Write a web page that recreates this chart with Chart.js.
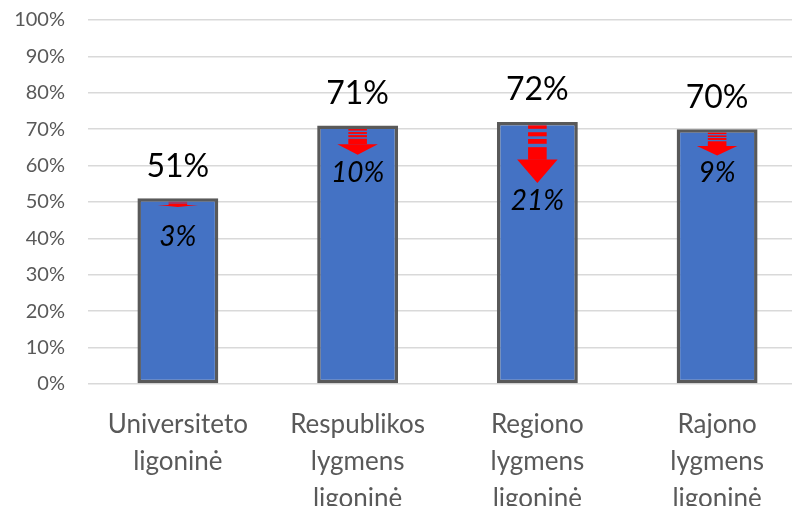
<!DOCTYPE html>
<html>
<head>
<meta charset="utf-8">
<script src="https://cdn.jsdelivr.net/npm/chart.js@4.4.0/dist/chart.umd.min.js"></script>
<style>
  body { margin: 0; overflow: hidden; background: #fff; }
  #wrap { width: 807px; height: 506px; }
</style>
</head>
<body>
<div id="wrap"><canvas id="myChart" width="807" height="506"></canvas></div>
<script>
const categories = [
    ['Universiteto', 'ligoninė'],
    ['Respublikos', 'lygmens', 'ligoninė'],
    ['Regiono', 'lygmens', 'ligoninė'],
    ['Rajono', 'lygmens', 'ligoninė']
];
const values = [51, 71, 72, 70];
const decreases = [3, 10, 21, 9];
const yTicks = [0, 10, 20, 30, 40, 50, 60, 70, 80, 90, 100];

// red striped arrows + value labels drawn on top of the bars
const arrowsAndLabels = {
    id: 'arrowsAndLabels',
    afterDatasetsDraw(chart) {
        const ctx = chart.ctx;
        const y = chart.scales.y;
        const meta = chart.getDatasetMeta(0);
        meta.data.forEach((bar, i) => {
            const x = bar.x;
            const top = y.getPixelForValue(values[i]);
            const tip = y.getPixelForValue(values[i] - decreases[i] * 0.8);
            const start = top + 3.5;
            const len = tip - start;
            const headH = len * 0.41;
            const shaftEnd = tip - headH;
            const shaftLen = shaftEnd - start;
            const shaftW = bar.width * 0.23;
            const headW = bar.width * 0.5;

            ctx.save();
            ctx.fillStyle = '#ff0000';
            [[0, 0.1], [0.2, 0.32], [0.4, 0.54], [0.64, 1.01]].forEach(([a, b]) => {
                ctx.fillRect(x - shaftW / 2, start + a * shaftLen, shaftW, (b - a) * shaftLen);
            });
            ctx.beginPath();
            ctx.moveTo(x - headW / 2, shaftEnd);
            ctx.lineTo(x + headW / 2, shaftEnd);
            ctx.lineTo(x, tip);
            ctx.closePath();
            ctx.fill();

            ctx.fillStyle = '#000';
            ctx.textAlign = 'center';
            ctx.textBaseline = 'middle';
            ctx.font = '32px Lato';
            ctx.fillText(values[i] + '%', x, top - 32);
            ctx.font = 'italic 28px Lato';
            ctx.fillText(decreases[i] + '%', x, Math.max(top + 39, tip + 18));
            ctx.restore();
        });
    }
};

const ctx = document.getElementById('myChart');

new Chart(ctx, {
    type: 'bar',
    data: {
        labels: categories,
        datasets: [{
            data: values,
            backgroundColor: '#4472c4',
            borderColor: '#595959',
            borderWidth: 3.5,
            borderSkipped: false,
            categoryPercentage: 1,
            barPercentage: 0.45
        }]
    },
    options: {
        responsive: false,
        animation: false,
        layout: { padding: { top: 20, left: 0, right: 0, bottom: 0 } },
        plugins: {
            legend: { display: false },
            tooltip: { enabled: false }
        },
        scales: {
            x: {
                grid: { display: false, drawTicks: false },
                border: { display: false },
                ticks: {
                    color: '#595959',
                    font: { family: 'Lato', size: 26, lineHeight: 1.42 },
                    padding: 22,
                    maxRotation: 0
                },
                afterFit(scale) { scale.height = 122; }
            },
            y: {
                min: 0,
                max: 100,
                afterBuildTicks(scale) { scale.ticks = yTicks.map(v => ({ value: v })); },
                grid: { color: '#d9d9d9', lineWidth: 1.5, drawTicks: false },
                border: { display: false },
                ticks: {
                    color: '#595959',
                    font: { family: 'Lato', size: 20 },
                    padding: 23,
                    callback: v => v + '%'
                },
                afterFit(scale) {
                    scale.width = 88;
                    scale.paddingTop = 10;
                    scale.paddingBottom = 10;
                }
            }
        }
    },
    plugins: [arrowsAndLabels]
});
</script>
</body>
</html>
